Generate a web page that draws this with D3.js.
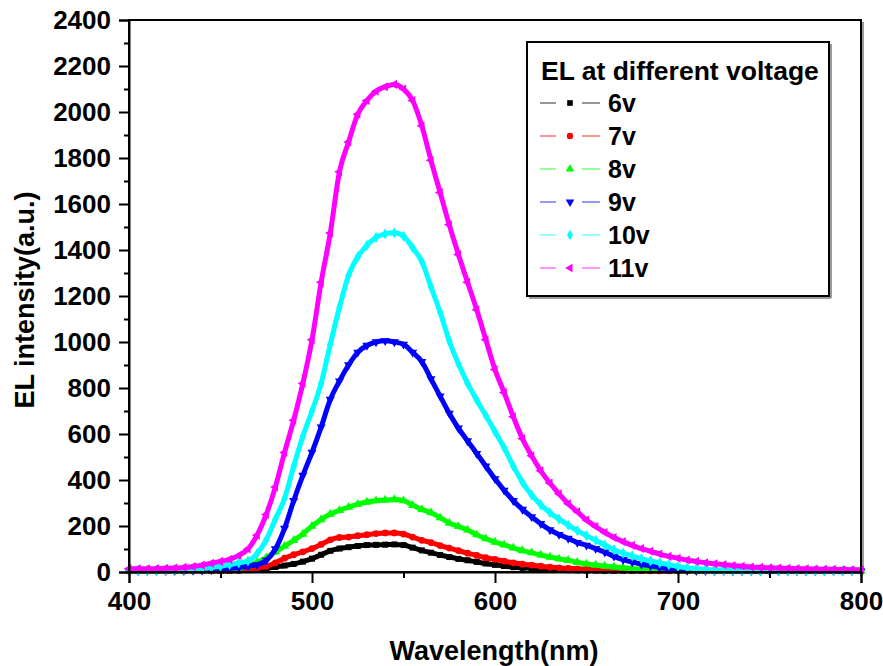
<!DOCTYPE html>
<html>
<head>
<meta charset="utf-8">
<script src="https://cdn.jsdelivr.net/npm/d3@7"></script>
<style>
  body { margin: 0; background: #fff; }
  svg text { font-family: "Liberation Sans", Arial, sans-serif; font-weight: bold; }
</style>
</head>
<body>
<svg id="chart" width="883" height="666"></svg>
<script>
// wavelength grid (nm) and read-off intensities for each voltage
var wavelength = [400,405,410,415,420,425,430,435,440,445,450,455,460,465,470,475,480,485,490,495,
  500,505,510,515,520,525,530,535,540,545,550,555,560,565,570,575,580,585,590,595,
  600,605,610,615,620,625,630,635,640,645,650,655,660,665,670,675,680,685,690,695,
  700,705,710,715,720,725,730,735,740,745,750,755,760,765,770,775,780,785,790,795,800];

var v6 = [5,5,5,5,5,5,5,5,5,5, 5,5,6,8,12,16,22,28,35,45,
  58,75,92,102,108,113,117,118,119,120, 117,106,94,84,74,65,57,51,44,37,
  31,26,21,18,16,13,11,9,8,7, 6,6,5,5,5,5,5,5,5,5,
  5,5,5,5,5,5,5,5,5,5, 5,5,5,5,5,5,5,5,5,5, 5];
var v7 = [5,5,5,5,5,5,5,5,5,5, 5,6,8,12,18,25,40,60,75,88,
  102,120,140,150,152,158,162,167,170,170, 165,152,138,128,115,104,93,82,72,62,
  55,47,40,34,30,25,21,18,16,14, 12,10,9,8,7,6,6,5,5,5,
  5,5,5,5,5,5,5,5,5,5, 5,5,5,5,5,5,5,5,5,5, 5];
var v8 = [5,5,5,5,5,5,6,6,7,8, 10,13,18,28,42,62,88,112,138,165,
  200,228,252,268,282,295,304,310,313,315, 310,290,272,258,236,213,198,183,162,145,
  130,118,105,93,84,74,65,57,51,42, 35,30,26,22,18,15,12,10,8,7,
  6,5,5,5,5,5,5,5,5,5, 5,5,5,5,5,5,5,5,5,5, 5];
var v9 = [5,5,5,5,5,6,6,7,8,10, 13,16,20,25,32,50,100,190,310,420,
  520,630,750,830,900,955,985,1000,1005,1000, 990,955,915,840,765,690,625,570,515,460,
  405,355,310,272,240,210,183,163,146,128, 116,102,86,68,54,43,34,27,20,14,
  10,7,6,5,5,5,4,4,4,4, 4,4,4,4,4,4,4,4,4,4, 4];
var v10 = [8,8,8,8,9,10,11,13,16,20, 25,32,40,48,80,140,230,320,460,590,
  700,820,990,1150,1290,1370,1420,1455,1470,1475, 1460,1410,1350,1240,1130,1005,905,820,748,680,
  610,540,460,390,335,292,258,230,204,180, 158,138,117,97,82,70,58,48,40,32,
  24,18,14,11,9,8,7,7,6,6, 6,6,6,6,6,6,6,6,6,6, 6];
var v11 = [14,14,14,15,16,17,20,24,30,38, 46,55,72,100,160,250,370,520,660,820,
  1010,1260,1474,1740,1870,1990,2050,2090,2110,2120, 2100,2050,1940,1790,1650,1510,1380,1260,1140,1010,
  880,780,675,580,505,440,387,340,297,262, 226,198,172,150,132,116,102,90,78,68,
  60,52,46,40,36,32,28,25,22,20, 18,17,16,15,14,13,12,12,11,10, 10];

var seriesNames = ["6v", "7v", "8v", "9v", "10v", "11v"];
var seriesColors = ["#000000", "#ff0000", "#00ff00", "#0000ff", "#00ffff", "#ff00ff"];
var seriesSymbols = ["square", "circle", "up", "down", "diamond", "left"];
var seriesValues = [v6, v7, v8, v9, v10, v11];

var xTicks = [400, 500, 600, 700, 800];
var xMinor = [450, 550, 650, 750];
var yTicks = [0, 200, 400, 600, 800, 1000, 1200, 1400, 1600, 1800, 2000, 2200, 2400];
var yMinor = [100, 300, 500, 700, 900, 1100, 1300, 1500, 1700, 1900, 2100, 2300];

(function() {
    var svg = d3.select("#chart");

    var pL = 129, pR = 861, pT = 20, pB = 572;

    var x = d3.scaleLinear().domain([400, 800]).range([pL, pR]);
    var y = d3.scaleLinear().domain([0, 2400]).range([pB, pT]);

    // marker path + rotation for a symbol name
    function markerShape(name, size) {
        var types = { square: d3.symbolSquare, circle: d3.symbolCircle, up: d3.symbolTriangle,
                      down: d3.symbolTriangle, diamond: d3.symbolDiamond, left: d3.symbolTriangle };
        var rot = name === "down" ? 180 : (name === "left" ? -90 : 0);
        return { d: d3.symbol().type(types[name]).size(size)(), rot: rot };
    }

    // frame shadow
    svg.append("line").attr("x1", pR + 2).attr("x2", pR + 2).attr("y1", pT + 2).attr("y2", pB + 2)
        .attr("stroke", "#9a9a9a").attr("stroke-width", 2);

    // curves, 6v drawn first so 11v sits on top
    seriesValues.forEach(function(vals, i) {
        var pts = wavelength.map(function(w, j) { return [w, vals[j]]; });
        var shape = markerShape(seriesSymbols[i], 36);
        var g = svg.append("g");
        g.append("path")
            .datum(pts)
            .attr("fill", "none")
            .attr("stroke", seriesColors[i])
            .attr("stroke-width", 5)
            .attr("stroke-linejoin", "round")
            .attr("d", d3.line()
                .x(function(d) { return x(d[0]); })
                .y(function(d) { return y(d[1]); })
                .curve(d3.curveMonotoneX));
        g.selectAll("path.pt")
            .data(pts)
            .enter().append("path")
            .attr("class", "pt")
            .attr("fill", seriesColors[i])
            .attr("d", shape.d)
            .attr("transform", function(d) {
                return "translate(" + x(d[0]) + "," + y(d[1]) + ") rotate(" + shape.rot + ")";
            });
    });

    // frame
    svg.append("rect").attr("x", pL).attr("y", pT).attr("width", pR - pL).attr("height", pB - pT)
        .attr("fill", "none").attr("stroke", "#000").attr("stroke-width", 2);

    // y axis
    svg.append("g").attr("transform", "translate(" + pL + ",0)")
        .call(d3.axisLeft(y).tickValues(yTicks).tickSize(10).tickPadding(8).tickFormat(d3.format("d")));
    svg.append("g").attr("transform", "translate(" + pL + ",0)")
        .call(d3.axisLeft(y).tickValues(yMinor).tickSize(5).tickFormat(""))
        .select(".domain").remove();

    // x axis
    svg.append("g").attr("transform", "translate(0," + pB + ")")
        .call(d3.axisBottom(x).tickValues(xTicks).tickSize(11).tickPadding(9).tickFormat(d3.format("d")));
    svg.append("g").attr("transform", "translate(0," + pB + ")")
        .call(d3.axisBottom(x).tickValues(xMinor).tickSize(6).tickFormat(""))
        .select(".domain").remove();

    svg.selectAll(".tick line").attr("stroke-width", 2);
    svg.selectAll(".domain").attr("stroke-width", 2);
    svg.selectAll(".tick text").attr("font-size", 26).attr("fill", "#000")
        .attr("font-family", "'Liberation Sans', Arial, sans-serif").attr("font-weight", "bold");

    // axis titles
    svg.append("text").attr("x", 494).attr("y", 660)
        .attr("text-anchor", "middle").attr("font-size", 27).text("Wavelength(nm)");
    svg.append("text").attr("transform", "translate(34," + 300 + ") rotate(-90)")
        .attr("text-anchor", "middle").attr("font-size", 27).text("EL intensity(a.u.)");

    // legend
    var lg = svg.append("g");
    lg.append("line").attr("x1", 831).attr("x2", 831).attr("y1", 44).attr("y2", 298)
        .attr("stroke", "#9a9a9a").attr("stroke-width", 2);
    lg.append("line").attr("x1", 529).attr("x2", 831).attr("y1", 298).attr("y2", 298)
        .attr("stroke", "#9a9a9a").attr("stroke-width", 2);
    lg.append("rect").attr("x", 527).attr("y", 42).attr("width", 302).attr("height", 254)
        .attr("fill", "#fff").attr("stroke", "#000").attr("stroke-width", 2);
    lg.append("text").attr("x", 541).attr("y", 80).attr("font-size", 26.5).text("EL at different voltage");

    seriesNames.forEach(function(name, i) {
        var cy = 103 + i * 33;
        var row = lg.append("g");
        row.append("line").attr("x1", 540).attr("x2", 556).attr("y1", cy).attr("y2", cy)
            .attr("stroke", seriesColors[i]).attr("stroke-opacity", 0.55).attr("stroke-width", 1.5);
        row.append("line").attr("x1", 582).attr("x2", 600).attr("y1", cy).attr("y2", cy)
            .attr("stroke", seriesColors[i]).attr("stroke-opacity", 0.55).attr("stroke-width", 1.5);
        var shape = markerShape(seriesSymbols[i], 32);
        row.append("path").attr("fill", seriesColors[i]).attr("d", shape.d)
            .attr("transform", "translate(570," + cy + ") rotate(" + shape.rot + ")");
        row.append("text").attr("x", 608).attr("y", cy + 9).attr("font-size", 25).text(name);
    });
})();
</script>
</body>
</html>
